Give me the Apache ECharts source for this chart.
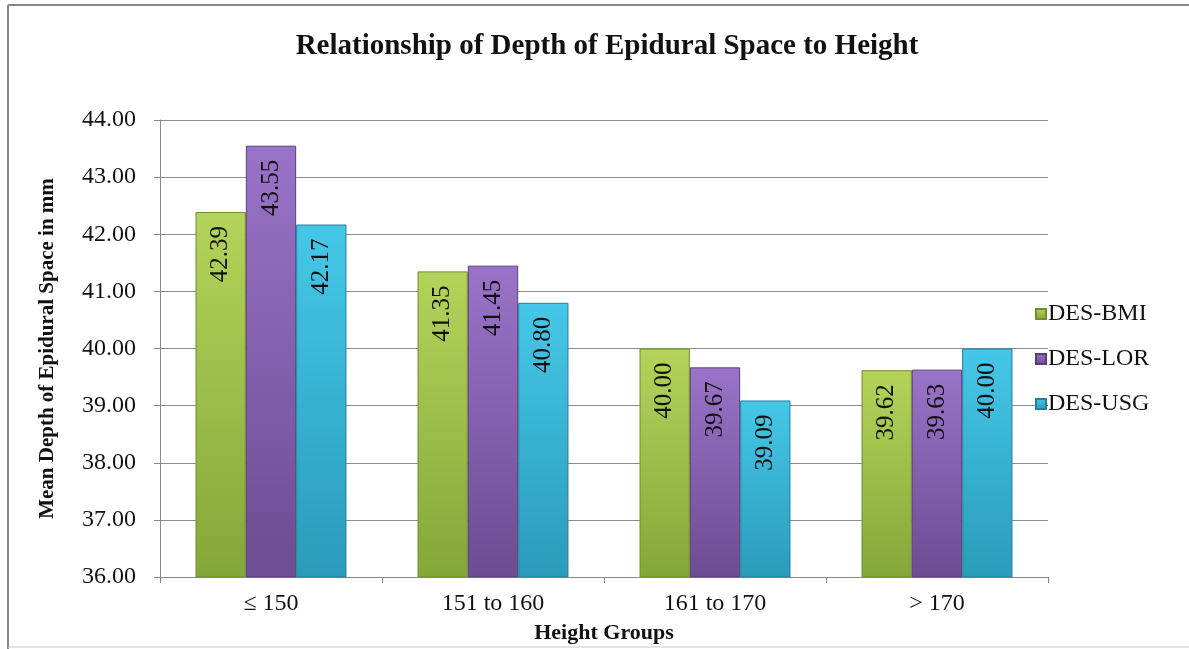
<!DOCTYPE html>
<html>
<head>
<meta charset="utf-8">
<script src="https://cdn.jsdelivr.net/npm/echarts@6/dist/echarts.min.js"></script>
<style>
  html, body { margin: 0; padding: 0; background: #fff; }
  #chart { width: 1189px; height: 649px; }
</style>
</head>
<body>
<div id="chart"></div>
<script>
// data
var categories = ["≤ 150", "151 to 160", "161 to 170", "> 170"];
var desBMI = [42.39, 41.35, 40.00, 39.62];
var desLOR = [43.55, 41.45, 39.67, 39.63];
var desUSG = [42.17, 40.80, 39.09, 40.00];
var seriesNames = ["DES-BMI", "DES-LOR", "DES-USG"];

var serif = "'Liberation Serif', 'Times New Roman', serif";

function grad(top, bottom) {
  return new echarts.graphic.LinearGradient(0, 0, 0, 1, [
    { offset: 0, color: top },
    { offset: 1, color: bottom }
  ]);
}

function makeSeries(name, data, top, bottom, border) {
  return {
    name: name,
    type: "bar",
    data: data,
    barGap: "0%",
    barCategoryGap: "32%",
    itemStyle: {
      color: grad(top, bottom),
      borderColor: border,
      borderWidth: 1
    },
    label: {
      show: true,
      position: "insideTop",
      distance: 14,
      rotate: 90,
      align: "right",
      verticalAlign: "middle",
      fontFamily: serif,
      fontSize: 25,
      color: "#111",
      formatter: function (p) { return p.value.toFixed(2); }
    }
  };
}

var chart = echarts.init(document.getElementById("chart"));
chart.setOption({
  animation: false,
  title: {
    text: "Relationship of Depth of Epidural Space to Height",
    left: 602,
    textAlign: "center",
    top: 27,
    textStyle: { fontFamily: serif, fontWeight: "bold", fontSize: 29, color: "#111" }
  },
  legend: {
    orient: "vertical",
    left: 1030,
    top: 297,
    itemGap: 21,
    itemWidth: 10,
    itemHeight: 10,
    icon: "rect",
    textStyle: { fontFamily: serif, fontSize: 24, color: "#111", padding: [0, 0, 0, -3] },
    data: seriesNames
  },
  grid: { left: 160, right: 141, top: 120, bottom: 69 },
  xAxis: {
    type: "category",
    data: categories,
    name: "Height Groups",
    nameLocation: "middle",
    nameGap: 45,
    nameTextStyle: { fontFamily: serif, fontWeight: "bold", fontSize: 22, color: "#111" },
    axisLine: { lineStyle: { color: "#888" } },
    axisTick: { show: true, length: 6, lineStyle: { color: "#888" } },
    axisLabel: { fontFamily: serif, fontSize: 24, color: "#111", margin: 15 }
  },
  yAxis: {
    type: "value",
    min: 36,
    max: 44,
    interval: 1,
    name: "Mean Depth of Epidural Space in mm",
    nameLocation: "middle",
    nameGap: 102,
    nameTextStyle: { fontFamily: serif, fontWeight: "bold", fontSize: 21, color: "#111" },
    axisLine: { show: true, lineStyle: { color: "#888" } },
    axisTick: { show: true, length: 6, lineStyle: { color: "#888" } },
    splitLine: { lineStyle: { color: "#8c8c8c" } },
    axisLabel: {
      fontFamily: serif,
      fontSize: 24,
      color: "#111",
      margin: 24,
      formatter: function (v) { return v.toFixed(2); }
    }
  },
  graphic: [
    { type: "line", shape: { x1: 8, y1: 5, x2: 1189, y2: 5 }, style: { stroke: "#888", lineWidth: 2 } },
    { type: "line", shape: { x1: 8, y1: 5, x2: 8, y2: 649 }, style: { stroke: "#888", lineWidth: 2 } },
    { type: "line", shape: { x1: 8, y1: 647, x2: 1189, y2: 647 }, style: { stroke: "#c8c8c8", lineWidth: 1 } }
  ],
  series: [
    makeSeries(seriesNames[0], desBMI, "#b3d35a", "#84a739", "#6f8e2e"),
    makeSeries(seriesNames[1], desLOR, "#9a73c8", "#6c4c92", "#5a3e7c"),
    makeSeries(seriesNames[2], desUSG, "#46c7e7", "#2a9bbb", "#21809c")
  ]
});
</script>
</body>
</html>
